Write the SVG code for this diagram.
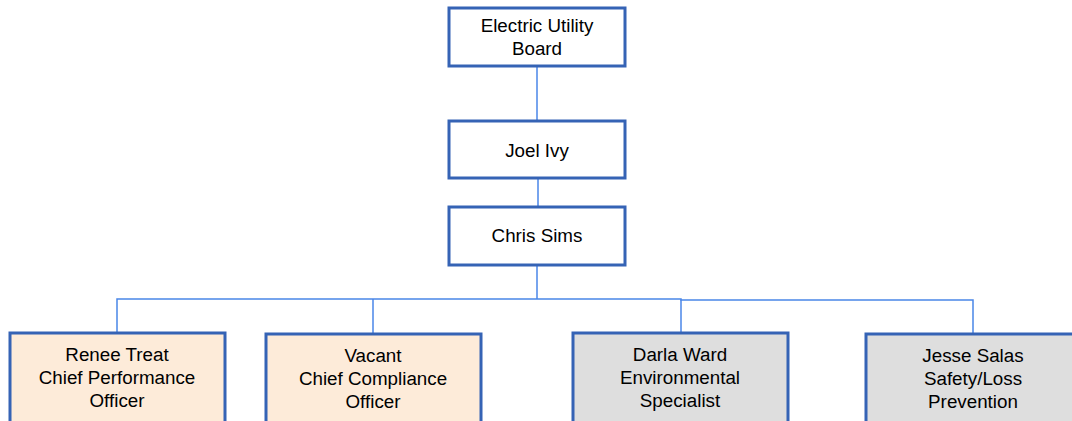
<svg xmlns="http://www.w3.org/2000/svg" width="1072" height="421" viewBox="0 0 1072 421">
<style>
.box{stroke:#3563B5;stroke-width:3}
.w{fill:#FFFFFF}
.p{fill:#FDEBD9}
.g{fill:#DEDEDE}
text{font-family:"Liberation Sans",Arial,sans-serif;font-size:18.8px;fill:#000;text-anchor:middle}
.c{fill:none;stroke:#4A86E8;stroke-width:1.5}
</style>
<rect width="1072" height="421" fill="#FFFFFF"/>
<g id="connectors">
<path class="c" d="M537 66V120"/>
<path class="c" d="M538 178V207"/>
<path class="c" d="M537 265V299"/>
<path class="c" d="M117 332V299H681V300H973V333"/>
<path class="c" d="M373 299V333"/>
<path class="c" d="M681 300V332"/>
</g>
<g id="board"><rect class="box w" x="449" y="8" width="176" height="58"/><text x="537" y="32">Electric Utility</text><text x="537" y="55">Board</text></g>
<g id="joel"><rect class="box w" x="449" y="121" width="176" height="57"/><text x="537" y="157">Joel Ivy</text></g>
<g id="chris"><rect class="box w" x="449" y="207" width="176" height="58"/><text x="537" y="242">Chris Sims</text></g>
<g id="renee"><rect class="box p" x="10" y="333" width="215" height="100"/><text x="117" y="361">Renee Treat</text><text x="117" y="384">Chief Performance</text><text x="117" y="407">Officer</text></g>
<g id="vacant"><rect class="box p" x="266" y="334" width="215" height="100"/><text x="373" y="362">Vacant</text><text x="373" y="385">Chief Compliance</text><text x="373" y="408">Officer</text></g>
<g id="darla"><rect class="box g" x="573" y="333" width="215" height="100"/><text x="680" y="361">Darla Ward</text><text x="680" y="384">Environmental</text><text x="680" y="407">Specialist</text></g>
<g id="jesse"><rect class="box g" x="866" y="334" width="215" height="100"/><text x="973" y="362">Jesse Salas</text><text x="973" y="385">Safety/Loss</text><text x="973" y="408">Prevention</text></g>
</svg>
